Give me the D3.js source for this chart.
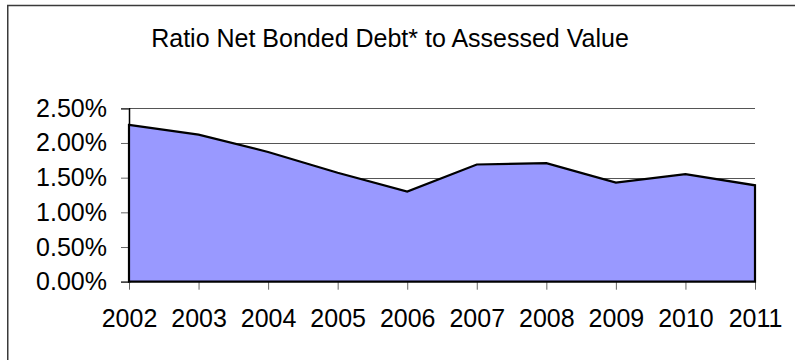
<!DOCTYPE html>
<html>
<head>
<meta charset="utf-8">
<script src="https://cdn.jsdelivr.net/npm/d3@7"></script>
<style>
  html, body { margin: 0; padding: 0; background: #fff; }
  svg { display: block; }
  text { font-family: "Liberation Sans", Arial, sans-serif; fill: #000; }
</style>
</head>
<body>
<svg id="chart" width="795" height="360"></svg>
<script>
// Fiscal years and the ratio of net bonded debt to assessed value (percent)
const years = ["2002", "2003", "2004", "2005", "2006", "2007", "2008", "2009", "2010", "2011"];
const ratios = [2.26, 2.12, 1.87, 1.57, 1.30, 1.69, 1.71, 1.43, 1.55, 1.39];
const yTicks = [0, 0.5, 1.0, 1.5, 2.0, 2.5];
const title = "Ratio Net Bonded Debt* to Assessed Value";

const svg = d3.select("#chart");
const W = 795, H = 360;
const plot = { left: 129, right: 755, top: 108.3, bottom: 281.7 };

// Outer chart frame (runs off the right and bottom edges)
svg.append("rect")
  .attr("x", 7.75).attr("y", 5.5)
  .attr("width", W + 20).attr("height", H + 20)
  .attr("fill", "#fff")
  .attr("stroke", "#3a3a3a")
  .attr("stroke-width", 1.5);

svg.append("text")
  .attr("x", 390).attr("y", 47)
  .attr("text-anchor", "middle")
  .style("font-size", "25px")
  .text(title);

const x = d3.scalePoint().domain(years).range([plot.left, plot.right]);
const y = d3.scaleLinear().domain([0, 2.5]).range([plot.bottom, plot.top]);

// Horizontal gridlines behind the area
svg.append("g")
  .selectAll("line")
  .data(yTicks.filter(d => d > 0))
  .join("line")
  .attr("x1", plot.left).attr("x2", plot.right)
  .attr("y1", d => Math.round(y(d)) + 0.5).attr("y2", d => Math.round(y(d)) + 0.5)
  .attr("stroke", "#555")
  .attr("stroke-width", 1);

// Y axis
const yAxis = d3.axisLeft(y)
  .tickValues(yTicks)
  .tickSize(8)
  .tickPadding(14)
  .tickFormat(d => d3.format(".2f")(d) + "%");
const gy = svg.append("g")
  .attr("transform", `translate(${plot.left},0)`)
  .call(yAxis);
gy.select(".domain").attr("stroke", "#000").attr("stroke-width", 1.5);
gy.selectAll(".tick line").attr("stroke", "#666");
gy.selectAll(".tick text").style("font-size", "25px").attr("fill", "#000");

// X axis
const xAxis = d3.axisBottom(x).tickSize(8).tickPadding(20);
const gx = svg.append("g")
  .attr("transform", `translate(0,${plot.bottom})`)
  .call(xAxis);
gx.select(".domain").remove();
gx.selectAll(".tick line").attr("stroke", "#666");
gx.selectAll(".tick text").style("font-size", "25px").attr("fill", "#000");

// Area series with black outline
const area = d3.area()
  .x((d, i) => x(years[i]))
  .y0(y(0))
  .y1(d => y(d));
svg.append("path")
  .datum(ratios)
  .attr("d", area(ratios) + "Z")
  .attr("fill", "#9999ff")
  .attr("stroke", "#000")
  .attr("stroke-width", 2.2)
  .attr("stroke-linejoin", "miter");
</script>
</body>
</html>
